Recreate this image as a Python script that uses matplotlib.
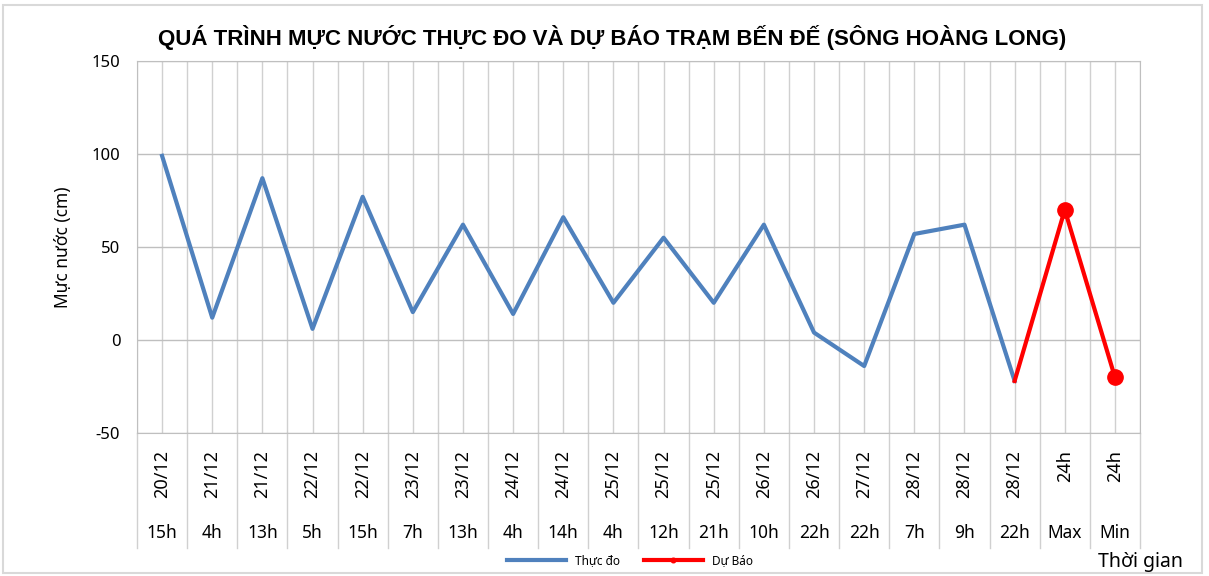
import numpy as np
import matplotlib.pyplot as plt
from matplotlib.patches import Rectangle
import matplotlib.transforms as mtransforms

plt.rcParams['font.family'] = ['Noto Sans', 'DejaVu Sans']
plt.rcParams['axes.unicode_minus'] = False

dates = ['20/12', '21/12', '21/12', '22/12', '22/12', '23/12', '23/12', '24/12', '24/12',
         '25/12', '25/12', '25/12', '26/12', '26/12', '27/12', '28/12', '28/12', '28/12',
         '24h', '24h']
hours = ['15h', '4h', '13h', '5h', '15h', '7h', '13h', '4h', '14h', '4h', '12h', '21h',
         '10h', '22h', '22h', '7h', '9h', '22h', 'Max', 'Min']

# measured levels (cm)
observed = [99, 12, 87, 6, 77, 15, 62, 14, 66, 20, 55, 20, 62, 4, -14, 57, 62, -22]
# forecast starts at last observation
forecast = [-22, 70, -20]

blue = '#4F81BD'
red = '#FF0000'
grid_c = '#D0D0D0'

fig = plt.figure(figsize=(12.09, 5.76), dpi=100)
ax = fig.add_axes([137 / 1209, 1 - 433 / 576, (1140 - 137) / 1209, (433 - 61) / 576])

x_obs = np.arange(len(observed))
x_fc = np.arange(len(observed) - 1, len(observed) - 1 + len(forecast))

ax.plot(x_obs, observed, color=blue, lw=3, label='Thực đo', zorder=3)
ax.plot(x_fc, forecast, color=red, lw=3, marker='o', markersize=11, markevery=[1, 2],
        label='Dự Báo', zorder=4, clip_on=False)

ncat = len(dates)
ax.set_xlim(-0.5, ncat - 0.5)
ax.set_ylim(-50, 150)
ax.set_yticks([-50, 0, 50, 100, 150])
ax.tick_params(axis='y', length=0, labelsize=12, pad=12)
ax.set_xticks(np.arange(ncat))
ax.set_xticks(np.arange(-0.5, ncat), minor=True)
ax.tick_params(axis='x', which='both', length=0, labelbottom=False)
ax.grid(True, which='both', axis='x', color=grid_c, lw=1)
ax.grid(True, which='major', axis='y', color='#BFBFBF', lw=1)
ax.set_axisbelow(True)
for s in ax.spines.values():
    s.set_color('#BFBFBF')

trans = mtransforms.blended_transform_factory(ax.transData, ax.transAxes)
for i in range(ncat):
    ax.text(i, -0.045, dates[i], rotation=90, ha='center', va='top', fontsize=13,
            transform=trans)
    ax.text(i, -0.27, hours[i], ha='center', va='center', fontsize=12.5,
            transform=trans)
for b in np.arange(-0.5, ncat):
    ax.plot([b, b], [0, -0.31], color=grid_c, lw=1, transform=trans, clip_on=False)

ax.set_ylabel('Mực nước (cm)', fontsize=12.5, labelpad=14)

fig.suptitle('QUÁ TRÌNH MỰC NƯỚC THỰC ĐO VÀ DỰ BÁO TRẠM BẾN ĐẾ (SÔNG HOÀNG LONG)',
             x=612 / 1209, y=1 - 38 / 576, va='center', fontsize=16, fontweight='bold',
             family=['Liberation Sans', 'DejaVu Sans'])

fig.text(1140 / 1209, 1 - 562 / 576, 'Thời gian', ha='center', va='center', fontsize=14)

fig.legend(loc='center', bbox_to_anchor=(630 / 1209, 1 - 561 / 576), ncol=2, frameon=False,
           fontsize=8.5, handlelength=5, columnspacing=2, markerscale=0.3)

fig.patches.append(Rectangle((3 / 1209, 3 / 576), 1 - 10 / 1209, 1 - 8 / 576,
                             transform=fig.transFigure, fill=False, ec='#D9D9D9', lw=1.5))

fig.savefig('out.png', dpi=100)
